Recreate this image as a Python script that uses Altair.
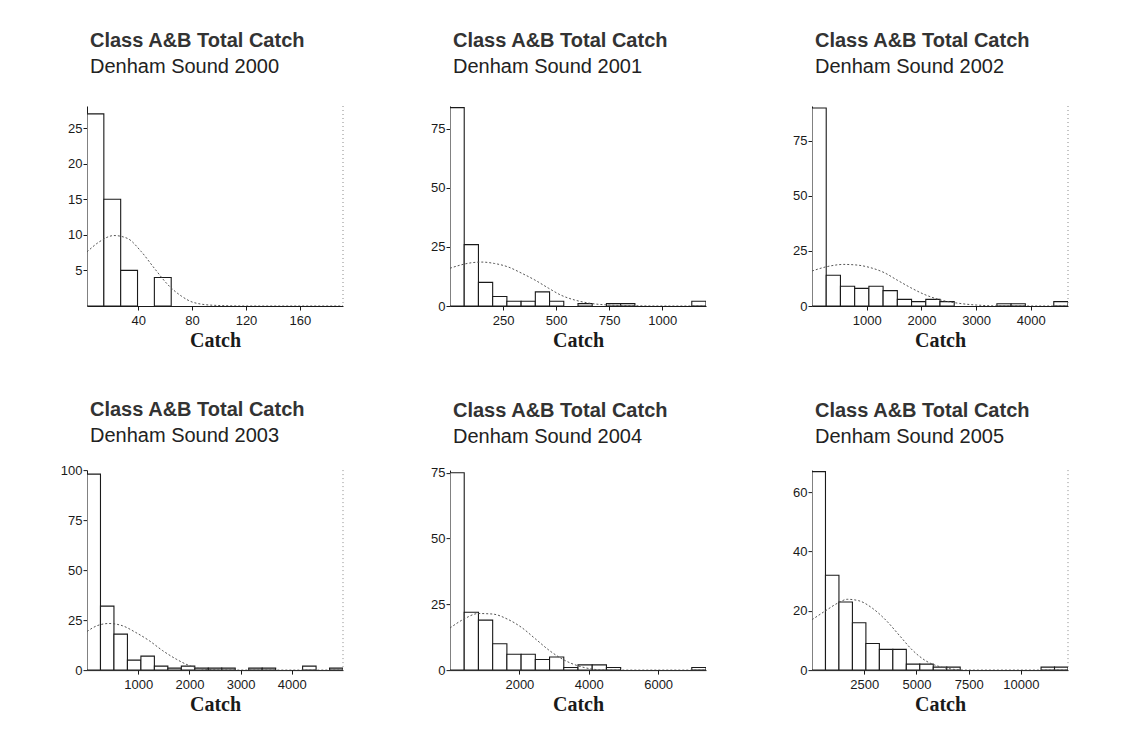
import altair as alt
import pandas as pd

# ---------------- data ----------------
years = [2000, 2001, 2002, 2003, 2004, 2005]
title_text = "Class A&B Total Catch"
subtitle_prefix = "Denham Sound"
x_title = "Catch"

bin_start = [2, 0, 0, 0, 0, 0]
bin_width = [12.5, 67, 260, 263.2, 410, 645]
x_max = [192, 1206, 4680, 5000, 7380, 12255]
y_max = [28.1, 84.7, 90.9, 100, 76, 67.5]

counts_2000 = [27, 15, 5, 0, 4]
counts_2001 = [84, 26, 10, 4, 2, 2, 6, 2, 0, 1, 0, 1, 1, 0, 0, 0, 0, 2]
counts_2002 = [90, 14, 9, 8, 9, 7, 3, 2, 3, 2, 0, 0, 0, 1, 1, 0, 0, 2]
counts_2003 = [98, 32, 18, 5, 7, 2, 1, 2, 1, 1, 1, 0, 1, 1, 0, 0, 2, 0, 1]
counts_2004 = [75, 22, 19, 10, 6, 6, 4, 5, 1, 2, 2, 1, 0, 0, 0, 0, 0, 1]
counts_2005 = [67, 32, 23, 16, 9, 7, 7, 2, 2, 1, 1, 0, 0, 0, 0, 0, 0, 1, 1]

# normal-curve overlay, points
curve_x_2000 = [2, 11, 22, 32, 42, 52, 62, 72, 81, 96, 120, 192]
curve_y_2000 = [7.6, 9.0, 9.9, 9.5, 7.7, 5.3, 3.0, 1.4, 0.5, 0.1, 0, 0]
curve_x_2001 = [0, 100, 150, 210, 275, 335, 400, 465, 525, 585, 650, 750, 870, 1000, 1206]
curve_y_2001 = [16, 18.3, 18.6, 18, 16.5, 14, 11, 7.5, 4.5, 2.6, 1.3, 0.4, 0.1, 0, 0]
curve_x_2002 = [0, 276, 582, 827, 1072, 1317, 1562, 1806, 2051, 2358, 2725, 3092, 3500, 4680]
curve_y_2002 = [15.9, 17.9, 18.9, 18.6, 17.4, 15.2, 11.7, 8.3, 5.3, 2.7, 1.1, 0.3, 0, 0]
curve_x_2003 = [0, 197, 427, 690, 953, 1216, 1479, 1742, 2005, 2268, 2564, 3000, 5000]
curve_y_2003 = [19.3, 22.2, 23.3, 22.2, 18.8, 14.7, 9.7, 5.5, 2.2, 0.5, 0.1, 0, 0]
curve_x_2004 = [0, 403, 816, 1229, 1651, 2064, 2468, 2880, 3293, 3697, 4100, 4513, 7380]
curve_y_2004 = [16, 19.4, 21.5, 21.3, 19.4, 16.2, 11.8, 7.3, 3.8, 1.6, 0.4, 0, 0]
curve_x_2005 = [0, 642, 1284, 1685, 2246, 2888, 3530, 4172, 4813, 5455, 6097, 6739, 7381, 12255]
curve_y_2005 = [17, 20, 22.8, 23.9, 23.4, 20.9, 16.9, 11.8, 6.7, 3.1, 1.2, 0.3, 0, 0]

x_ticks_2000 = [40, 80, 120, 160]
x_ticks_2001 = [250, 500, 750, 1000]
x_ticks_2002 = [1000, 2000, 3000, 4000]
x_ticks_2003 = [1000, 2000, 3000, 4000]
x_ticks_2004 = [2000, 4000, 6000]
x_ticks_2005 = [2500, 5000, 7500, 10000]

y_ticks_2000 = [5, 10, 15, 20, 25]
y_ticks_2001 = [0, 25, 50, 75]
y_ticks_2002 = [0, 25, 50, 75]
y_ticks_2003 = [0, 25, 50, 75, 100]
y_ticks_2004 = [0, 25, 50, 75]
y_ticks_2005 = [0, 20, 40, 60]

counts = [counts_2000, counts_2001, counts_2002, counts_2003, counts_2004, counts_2005]
curves_x = [curve_x_2000, curve_x_2001, curve_x_2002, curve_x_2003, curve_x_2004, curve_x_2005]
curves_y = [curve_y_2000, curve_y_2001, curve_y_2002, curve_y_2003, curve_y_2004, curve_y_2005]
x_ticks = [x_ticks_2000, x_ticks_2001, x_ticks_2002, x_ticks_2003, x_ticks_2004, x_ticks_2005]
y_ticks = [y_ticks_2000, y_ticks_2001, y_ticks_2002, y_ticks_2003, y_ticks_2004, y_ticks_2005]
right_frame = [True, False, True, True, False, True]

# ---------------- styling ----------------
SANS = "Liberation Sans"
SERIF = "Liberation Serif"
INK = "#1a1a1a"
PW, PH = 256, 200
# title distance above each panel (compensates top tick-label overhang)
title_offsets = [29, 29, 29, 18, 20, 23]


def panel(i):
    year = years[i]
    rows = []
    for k, c in enumerate(counts[i]):
        if c > 0:
            lo = bin_start[i] + k * bin_width[i]
            rows.append({"lo": lo, "hi": lo + bin_width[i], "count": c})
    bars_df = pd.DataFrame(rows)
    curve_df = pd.DataFrame({"x": curves_x[i], "y": curves_y[i]})

    xscale = alt.Scale(domain=[bin_start[i], x_max[i]], nice=False, zero=False)
    yscale = alt.Scale(domain=[0, y_max[i]], nice=False)

    xaxis = alt.Axis(
        values=x_ticks[i], title=x_title, grid=False, format="d",
        labelFont=SANS, labelFontSize=13, labelColor=INK, labelPadding=4,
        tickSize=4, tickColor=INK, domainColor=INK, labelFlush=False,
        titleFont=SERIF, titleFontSize=20, titleFontWeight="bold", titleColor=INK,
        titlePadding=3,
    )
    yaxis = alt.Axis(
        values=y_ticks[i], title=None, grid=False, format="d",
        labelFont=SANS, labelFontSize=13, labelColor=INK, labelPadding=1,
        tickSize=4, tickColor=INK, domainColor=INK, labelFlush=False,
        minExtent=30, maxExtent=30,
    )

    bars = alt.Chart(bars_df).mark_rect(
        fill="white", stroke=INK, strokeWidth=1.1, clip=True
    ).encode(
        x=alt.X("lo:Q", scale=xscale, axis=xaxis),
        x2="hi:Q",
        y=alt.Y("count:Q", scale=yscale, axis=yaxis),
        y2=alt.datum(0),
    )
    curve = alt.Chart(curve_df).mark_line(
        interpolate="monotone", strokeDash=[2, 2], color="#555", strokeWidth=1, clip=True
    ).encode(x="x:Q", y="y:Q")

    layers = [bars, curve]
    if right_frame[i]:
        rule = alt.Chart(pd.DataFrame({"xr": [x_max[i]]})).mark_rule(
            strokeDash=[1, 3], color="#8a8a8a", strokeWidth=1
        ).encode(x="xr:Q")
        layers.append(rule)

    return alt.layer(*layers).properties(
        width=PW, height=PH,
        title=alt.TitleParams(
            text=title_text, subtitle=f"{subtitle_prefix} {year}",
            anchor="start", frame="group", dx=3,
            font=SANS, fontSize=20, fontWeight="bold", color="#333",
            subtitleFont=SANS, subtitleFontSize=20, subtitleFontWeight="normal",
            subtitleColor="#222", subtitlePadding=6,
            offset=title_offsets[i],
        ),
    )


chart = alt.concat(
    *[panel(i) for i in range(6)], columns=3,
    spacing={"row": 50.1, "column": 76},
).properties(
    padding={"left": 57, "top": 30, "right": 5, "bottom": 5},
    background="white",
).configure_view(stroke=None)

chart.save("out.html", embed_options={"renderer": "svg", "actions": False})
